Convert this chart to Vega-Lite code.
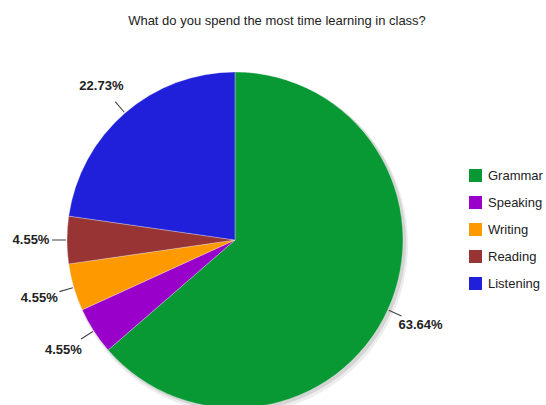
{
  "$schema": "https://vega.github.io/schema/vega-lite/v6.json",
  "autosize": {"type": "none"},
  "padding": {"left": 67, "top": 75, "right": 143, "bottom": 0},
  "width": 336,
  "height": 330,
  "background": "#ffffff",
  "config": {"view": {"stroke": null}, "font": "Liberation Sans"},
  "title": {
    "text": "What do you spend the most time learning in class?",
    "frame": "group",
    "anchor": "middle",
    "dx": 42,
    "offset": 33,
    "baseline": "alphabetic",
    "fontSize": 13,
    "fontWeight": "normal",
    "color": "#222222",
    "font": "Liberation Sans"
  },
  "data": {
    "values": [
      {"skill": "Grammar", "share": 0.6364, "rank": 1},
      {"skill": "Speaking", "share": 0.0455, "rank": 2},
      {"skill": "Writing", "share": 0.0455, "rank": 3},
      {"skill": "Reading", "share": 0.0455, "rank": 4},
      {"skill": "Listening", "share": 0.2273, "rank": 5}
    ]
  },
  "encoding": {
    "theta": {"field": "share", "type": "quantitative", "stack": true, "scale": {"domain": [0, 1.0002], "zero": true, "nice": false}},
    "order": {"field": "rank", "type": "quantitative"}
  },
  "layer": [
    {
      "mark": {"type": "arc", "radius": 170, "fill": "#000000", "fillOpacity": 0.07, "stroke": null, "xOffset": 3, "yOffset": 4}
    },
    {
      "mark": {"type": "arc", "radius": 169, "fill": "#000000", "fillOpacity": 0.1, "stroke": null, "xOffset": 2, "yOffset": 2}
    },
    {
      "mark": {"type": "arc", "radius": 168, "stroke": "#ffffff", "strokeWidth": 0.5, "strokeOpacity": 0.6},
      "encoding": {
        "color": {
          "field": "skill",
          "type": "nominal",
          "sort": ["Grammar", "Speaking", "Writing", "Reading", "Listening"],
          "scale": {
            "domain": ["Grammar", "Speaking", "Writing", "Reading", "Listening"],
            "range": ["#099934", "#9900c9", "#ff9900", "#983434", "#2020da"]
          },
          "legend": {
            "title": null,
            "orient": "none",
            "legendX": 402,
            "legendY": 94,
            "padding": 0,
            "symbolType": "square",
            "symbolSize": 169,
            "symbolStrokeWidth": 0,
            "labelFontSize": 13,
            "labelColor": "#222222",
            "labelFont": "Liberation Sans",
            "labelOffset": 6,
            "rowPadding": 13
          }
        }
      }
    },
    {
      "transform": [
        {"stack": "share", "groupby": [], "sort": [{"field": "rank", "order": "ascending"}], "as": ["s0", "s1"]},
        {"calculate": "(datum.s0 + datum.s1) / 2 - 0.0005", "as": "lo"},
        {"calculate": "(datum.s0 + datum.s1) / 2 + 0.0005", "as": "hi"}
      ],
      "mark": {"type": "arc", "radius": 183, "radius2": 169, "fill": "#444444", "stroke": null},
      "encoding": {
        "theta": {"field": "lo", "type": "quantitative", "stack": null},
        "theta2": {"field": "hi"}
      }
    },
    {
      "mark": {"type": "text", "radius": 204, "fontSize": 13, "fontWeight": "bold", "color": "#222222", "align": "center", "baseline": "middle", "font": "Liberation Sans"},
      "encoding": {
        "text": {"field": "share", "type": "quantitative", "format": ".2%"}
      }
    }
  ]
}
